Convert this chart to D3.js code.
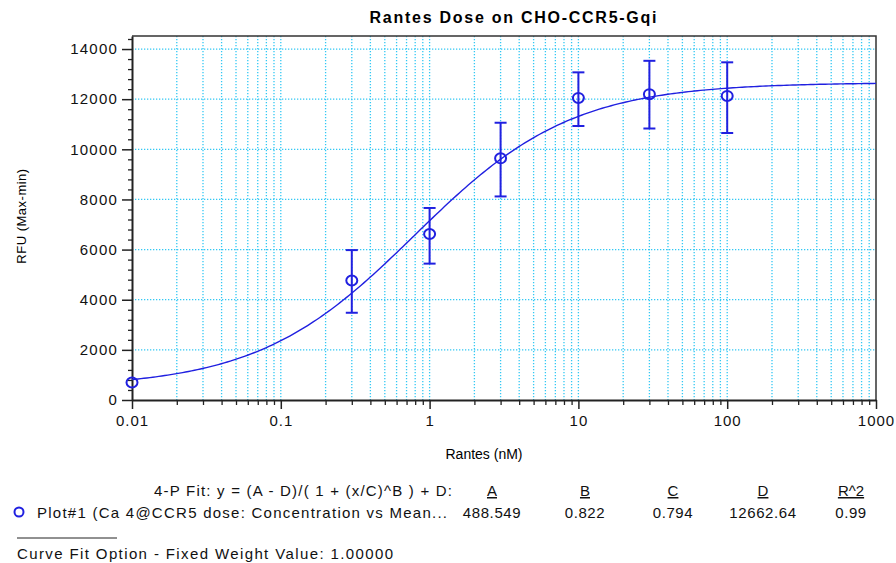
<!DOCTYPE html>
<html>
<head>
<meta charset="utf-8">
<script src="https://cdn.jsdelivr.net/npm/d3@7"></script>
<style>
  body { margin: 0; background: #fff; }
  svg { display: block; font-family: Arial, "Liberation Sans", sans-serif; }
  .tick text { font-size: 15px; fill: #111; }
</style>
</head>
<body>
<svg id="chart" width="896" height="563"></svg>
<script>
// dose points
const concentrations = [0.01, 0.3, 1, 3, 10, 30, 100];
const meanRFU = [700, 4770, 6620, 9640, 12050, 12200, 12130];
const errLow = [700, 3480, 5440, 8120, 10930, 10830, 10650];
const errHigh = [700, 5980, 7660, 11060, 13070, 13530, 13470];

// 4-P fit table shown under the chart
const fitNames = ['A', 'B', 'C', 'D', 'R^2'];
const fitValues = [488.549, 0.822, 0.794, 12662.64, 0.99];
const fitLabels = ['488.549', '0.822', '0.794', '12662.64', '0.99'];

const yMajor = [0, 2000, 4000, 6000, 8000, 10000, 12000, 14000];

const svg = d3.select('#chart');
const m = { left: 132, right: 876, top: 36, bottom: 400 };

const x = d3.scaleLog().domain([0.01, 1000]).range([m.left, m.right]);
const y = d3.scaleLinear().domain([0, 14520]).range([m.bottom, m.top]);

const gridColor = '#33c8f4';
const blue = '#2020e0';

// grid
const xGrid = x.ticks().filter(d => d > 0.01 && d < 1000);
svg.append('g').selectAll('line').data(xGrid).enter().append('line')
  .attr('x1', d => x(d)).attr('x2', d => x(d))
  .attr('y1', m.top).attr('y2', m.bottom)
  .attr('stroke', gridColor).attr('stroke-width', 1.3)
  .attr('stroke-dasharray', '1.3,1.7');
svg.append('g').selectAll('line').data(yMajor.filter(d => d > 0)).enter().append('line')
  .attr('x1', m.left).attr('x2', m.right)
  .attr('y1', d => y(d)).attr('y2', d => y(d))
  .attr('stroke', gridColor).attr('stroke-width', 1.3)
  .attr('stroke-dasharray', '1.3,1.7');

// frame top/right
svg.append('path')
  .attr('d', `M${m.left},${m.top}H${m.right}V${m.bottom}`)
  .attr('fill', 'none').attr('stroke', '#333').attr('stroke-width', 1.5);

// axes
const xMajorTicks = x.ticks().filter(d => Math.abs(Math.log10(d) - Math.round(Math.log10(d))) < 1e-9);
const xMinorTicks = x.ticks().filter(d => !xMajorTicks.includes(d));
const fmtX = d => d >= 1 ? d3.format('d')(d) : String(d);

svg.append('g').attr('transform', `translate(0,${m.bottom})`)
  .call(d3.axisBottom(x).tickValues(xMinorTicks).tickSize(5).tickFormat(''))
  .call(g => g.select('.domain').remove())
  .call(g => g.selectAll('line').attr('stroke', '#222').attr('stroke-width', 1.3));
svg.append('g').attr('transform', `translate(0,${m.bottom})`)
  .call(d3.axisBottom(x).tickValues(xMajorTicks).tickSizeInner(9).tickSizeOuter(0).tickFormat(fmtX).tickPadding(6))
  .call(g => g.select('.domain').attr('stroke', '#222').attr('stroke-width', 2))
  .call(g => g.selectAll('line').attr('stroke', '#222').attr('stroke-width', 1.5))
  .call(g => g.selectAll('text').attr('letter-spacing', '1px'));

const yMinor = d3.range(0, 14520, 400).filter(d => !yMajor.includes(d));
svg.append('g').attr('transform', `translate(${m.left},0)`)
  .call(d3.axisLeft(y).tickValues(yMinor).tickSize(4).tickFormat(''))
  .call(g => g.select('.domain').remove())
  .call(g => g.selectAll('line').attr('stroke', '#222').attr('stroke-width', 1.3));
svg.append('g').attr('transform', `translate(${m.left},0)`)
  .call(d3.axisLeft(y).tickValues(yMajor).tickSizeInner(10).tickSizeOuter(0).tickFormat(d3.format('d')).tickPadding(4))
  .call(g => g.select('.domain').attr('stroke', '#222').attr('stroke-width', 2))
  .call(g => g.selectAll('line').attr('stroke', '#222').attr('stroke-width', 1.5))
  .call(g => g.selectAll('text').attr('letter-spacing', '1.2px'));

// fitted curve from the displayed 4-P parameters
const [A, B, C, D] = fitValues;
const fit = v => (A - D) / (1 + Math.pow(v / C, B)) + D;
const curveX = d3.range(-2, 3.001, 0.02).map(p => Math.pow(10, p));
svg.append('path')
  .datum(curveX)
  .attr('fill', 'none').attr('stroke', blue).attr('stroke-width', 1.4)
  .attr('d', d3.line().x(d => x(d)).y(d => y(fit(d))));

// error bars
const pts = concentrations.map((c, i) => ({ c, v: meanRFU[i], lo: errLow[i], hi: errHigh[i] }));
const eb = svg.append('g').attr('stroke', blue).attr('stroke-width', 2);
pts.filter(d => d.hi > d.lo).forEach(d => {
  eb.append('line').attr('x1', x(d.c)).attr('x2', x(d.c)).attr('y1', y(d.lo)).attr('y2', y(d.hi));
  eb.append('line').attr('x1', x(d.c) - 6).attr('x2', x(d.c) + 6).attr('y1', y(d.lo)).attr('y2', y(d.lo));
  eb.append('line').attr('x1', x(d.c) - 6).attr('x2', x(d.c) + 6).attr('y1', y(d.hi)).attr('y2', y(d.hi));
});

// markers
svg.append('g').selectAll('ellipse').data(pts).enter().append('ellipse')
  .attr('cx', d => x(d.c)).attr('cy', d => y(d.v))
  .attr('rx', 5.5).attr('ry', 5)
  .attr('fill', 'none').attr('stroke', blue).attr('stroke-width', 2);

// titles
svg.append('text').attr('x', 513).attr('y', 23).attr('text-anchor', 'middle')
  .attr('font-size', 16).attr('font-weight', 'bold')
  .attr('textLength', 287).attr('lengthAdjust', 'spacing')
  .text('Rantes Dose on CHO-CCR5-Gqi');
svg.append('text').attr('x', 484).attr('y', 459).attr('text-anchor', 'middle')
  .attr('font-size', 14).text('Rantes (nM)');
svg.append('text').attr('transform', 'translate(26,216) rotate(-90)').attr('text-anchor', 'middle')
  .attr('font-size', 13).attr('letter-spacing', '0.5px').text('RFU (Max-min)');

// fit table
const colX = [492, 585, 673, 763, 851];
const legend = svg.append('g').attr('font-size', 15).attr('fill', '#111');
legend.append('text').attr('x', 452).attr('y', 496).attr('text-anchor', 'end')
  .attr('textLength', 298).attr('lengthAdjust', 'spacing')
  .text('4-P Fit:  y = (A - D)/( 1 + (x/C)^B ) + D:');
legend.selectAll('.hdr').data(fitNames).enter().append('text')
  .attr('x', (d, i) => colX[i]).attr('y', 496).attr('text-anchor', 'middle')
  .attr('text-decoration', 'underline').text(d => d);
legend.append('ellipse').attr('cx', 19).attr('cy', 512).attr('rx', 4.5).attr('ry', 4.5)
  .attr('fill', 'none').attr('stroke', blue).attr('stroke-width', 2);
legend.append('text').attr('x', 37).attr('y', 518)
  .attr('textLength', 410).attr('lengthAdjust', 'spacing')
  .text('Plot#1 (Ca 4@CCR5 dose: Concentration vs Mean...');
legend.selectAll('.val').data(fitLabels).enter().append('text')
  .attr('x', (d, i) => colX[i]).attr('y', 518).attr('text-anchor', 'middle')
  .attr('letter-spacing', '0.6px').text(d => d);
legend.append('line').attr('x1', 17).attr('x2', 117).attr('y1', 538).attr('y2', 538)
  .attr('stroke', '#222').attr('stroke-width', 1);
legend.append('text').attr('x', 17).attr('y', 559)
  .attr('textLength', 376).attr('lengthAdjust', 'spacing')
  .text('Curve Fit Option - Fixed Weight Value:  1.00000');
</script>
</body>
</html>
